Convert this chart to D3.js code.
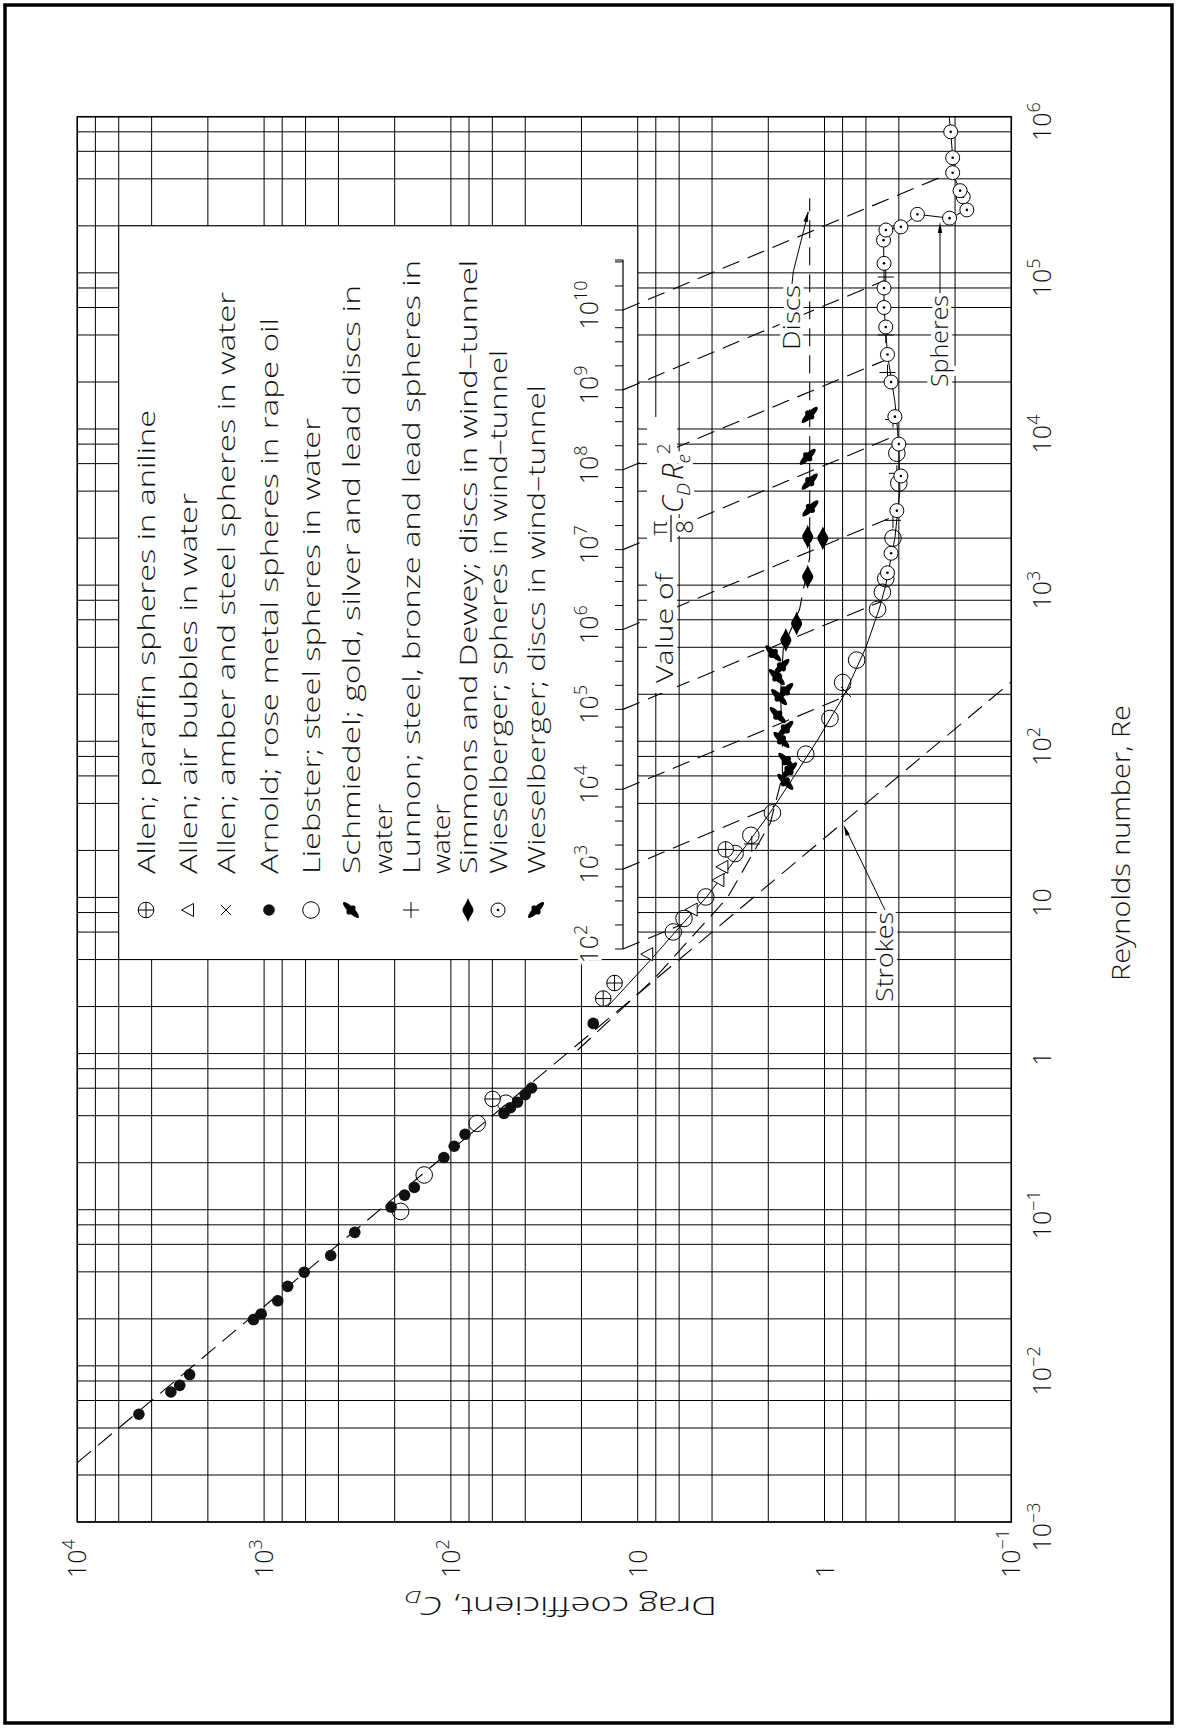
<!DOCTYPE html>
<html><head><meta charset="utf-8">
<script src="https://cdn.jsdelivr.net/npm/d3@7"></script>
<style>body{margin:0;background:#fff}</style></head>
<body><svg id="c" width="1177" height="1728"></svg>
<script>
// ---------------- DATA ([Re, Cd]) ----------------
const reTickExps = [-3,-2,-1,0,1,2,3,4,5,6];
const cdTickExps = [4,3,2,1,0,-1];
const gridMult = [1,2,4,6,8];
const vTickExps = [2,3,4,5,6,7,8,9,10];

const allenParaffin = [[0.512,59.8],[2.25,15.3],[2.83,13.3],[20.3,3.38]];
const allenBubbles = [[4.33,8.89],[8.36,5.14],[12.9,3.70],[15.7,3.52]];
const allenAmber = [[207,0.767]];
const arnold = [[0.0049,4680],[0.0068,3155],[0.0075,2830],[0.0088,2505],[0.0198,1140],[0.0215,1037],[0.0261,845],[0.0323,748],[0.0398,610],[0.0509,440],[0.0716,327],[0.104,209],[0.124,177],[0.139,157],[0.216,109],[0.255,96],[0.304,84],[0.414,52],[0.45,48],[0.488,44],[0.546,40],[0.602,37],[1.56,17.3]];
const liebster = [[0.0975,186],[0.167,139],[0.357,72.3],[0.481,50.8],[6.01,6.45],[7.33,5.65],[10.07,4.32],[19.1,3.01],[25,2.48],[34.8,1.9],[82.7,1.26],[140,0.935],[238,0.80],[331,0.673],[700,0.52],[900,0.49],[1100,0.47],[2000,0.43],[4500,0.4],[7000,0.41]];
const schmiedel = [[55,1.62],[75,1.6],[102,1.7],[147,1.78],[192,1.75],[258,1.8],[365,1.88]];
const lunnon = [[22,2.45],[2600,0.43],[5200,0.41],[1.15e4,0.43],[2.3e4,0.46],[4e4,0.47],[6e4,0.48],[9.4e4,0.47]];
const simmons = [[445,1.61],[568,1.41],[1130,1.23],[2000,1.02],[2040,1.23]];
const wieselSpheres = [[1.2e3,0.46],[1.6e3,0.44],[3e3,0.41],[5e3,0.39],[8e3,0.4],[1.2e4,0.42],[2e4,0.44],[3e4,0.46],[4.5e4,0.47],[6e4,0.48],[8e4,0.48],[1.15e5,0.48],[1.62e5,0.483],[1.88e5,0.469],[1.97e5,0.39],[2.37e5,0.318],[2.24e5,0.214],[2.53e5,0.173],[3.07e5,0.181],[3.36e5,0.188],[4.38e5,0.206],[5.46e5,0.206],[8.0e5,0.211]];
const wieselDiscs = [[65,1.55],[120,1.62],[210,1.62],[300,1.7],[3100,1.19],[4600,1.2],[6640,1.23],[1.23e4,1.2]];
const sphereCurve = [[2,14.5],[4,8.5],[6,6.3],[10,4.3],[20,2.75],[35,1.95],[60,1.45],[100,1.1],[200,0.78],[400,0.6],[700,0.51],[1000,0.47],[2000,0.42],[4000,0.395],[8000,0.4],[1.5e4,0.42],[3e4,0.46],[6e4,0.48],[1e5,0.48],[1.62e5,0.483],[1.88e5,0.469],[1.97e5,0.39],[2.37e5,0.318],[2.24e5,0.214],[2.53e5,0.173],[3.07e5,0.181],[3.36e5,0.188],[4.38e5,0.206],[5.46e5,0.206],[8.0e5,0.211],[1e6,0.215]];
const discCurve = [[1.05,21],[3,8.2],[10,3.3],[30,1.95],[60,1.68],[100,1.68],[200,1.72],[400,1.66],[700,1.36],[1500,1.2],[3e5,1.2]];
const stokesLine = [[2.4e-3,1e4],[240,0.1]];

// ---------------- SETUP ----------------
const W = 1177, H = 1728;
const svg = d3.select('#c');
svg.append('rect').attr('width',W).attr('height',H).attr('fill','#fff');
svg.append('rect').attr('x',5).attr('y',5).attr('width',1167).attr('height',1718)
  .attr('fill','none').attr('stroke','#000').attr('stroke-width',3.5);

const x = d3.scaleLog().domain([1e4,1e-1]).range([77.3,1011.3]);
const y = d3.scaleLog().domain([1e-3,1e6]).range([1522,116.7]);
const vScale = d3.scaleLog().domain([1e2,1e10]).range([949,310]);
const FONT = '"Open Sans", Roboto, "DejaVu Sans", sans-serif';
const FW = 300;

// grid
const cdGrid = [], reGrid = [];
for (let k=-1;k<=3;k++) gridMult.forEach(m=>cdGrid.push(m*Math.pow(10,k)));
cdGrid.push(1e4);
for (let k=-3;k<=5;k++) gridMult.forEach(m=>reGrid.push(m*Math.pow(10,k)));
reGrid.push(1e6);

const g = svg.append('g');
g.selectAll('.vg').data(cdGrid).join('line')
  .attr('x1',d=>x(d)).attr('x2',d=>x(d)).attr('y1',y(1e6)).attr('y2',y(1e-3))
  .attr('stroke','#000').attr('stroke-width',1);
g.selectAll('.hg').data(reGrid).join('line')
  .attr('y1',d=>y(d)).attr('y2',d=>y(d)).attr('x1',x(1e4)).attr('x2',x(1e-1))
  .attr('stroke','#000').attr('stroke-width',1);
g.append('rect').attr('x',x(1e4)).attr('y',y(1e6)).attr('width',x(1e-1)-x(1e4)).attr('height',y(1e-3)-y(1e6))
  .attr('fill','none').attr('stroke','#000').attr('stroke-width',1.5);

// legend box
const lg = svg.append('g');
lg.append('rect').attr('x',x(6000)).attr('y',y(2e5)).attr('width',x(10)-x(6000)).attr('height',y(4)-y(2e5))
  .attr('fill','#fff').attr('stroke','#000').attr('stroke-width',1);

function rtext(parent, px, py, anchor, size){
  return parent.append('text').attr('transform',`translate(${px},${py}) rotate(-90)`)
    .attr('text-anchor',anchor).attr('font-family',FONT).attr('font-weight',FW).attr('font-size',size).attr('fill','#111');
}
function pow10(parent, px, py, exp, size, anchor){
  const t = rtext(parent, px, py, anchor||'middle', size);
  if (exp===0){ t.text('1'); return t; }
  if (exp===1){ t.text('10'); return t; }
  t.append('tspan').text('10');
  t.append('tspan').attr('dy',-size*0.45).attr('font-size',size*0.72).text(exp<0?('\u2212'+(-exp)):exp);
  return t;
}

// ---------------- MARKERS ----------------
function drawMarker(s, type){
  if (type==='oplus'){ s.append('circle').attr('r',7.8).attr('fill','#fff').attr('stroke','#000').attr('stroke-width',1);
    s.append('path').attr('d','M-7.8,0H7.8M0,-7.8V7.8').attr('stroke','#000').attr('stroke-width',1); }
  if (type==='tri'){ s.append('path').attr('d','M-6.5,0L5.5,-6.5L5.5,6.5Z').attr('fill','#fff').attr('stroke','#000').attr('stroke-width',1); }
  if (type==='cross'){ s.append('path').attr('d','M-5,-5L5,5M-5,5L5,-5').attr('stroke','#000').attr('stroke-width',1); }
  if (type==='dot'){ s.append('circle').attr('r',5.8).attr('fill','#111'); }
  if (type==='circle'){ s.append('circle').attr('r',8.3).attr('fill','none').attr('stroke','#000').attr('stroke-width',1); }
  if (type==='plus'){ s.append('path').attr('d','M-8,0H8M0,-8V8').attr('stroke','#000').attr('stroke-width',1); }
  if (type==='odot'){ s.append('circle').attr('r',7).attr('fill','#fff').attr('stroke','#000').attr('stroke-width',1);
    s.append('circle').attr('r',1.3).attr('fill','#000'); }
  if (type==='schm'){ const q=s.append('g').attr('transform','rotate(45)');
    q.append('ellipse').attr('rx',11).attr('ry',3.2).attr('fill','#000');
    q.append('ellipse').attr('rx',3.5).attr('ry',5.5).attr('fill','#000'); }
  if (type==='simm'){ s.append('path').attr('d','M0,-12C2,-6 5.5,-3 5.5,0C5.5,3 2,6 0,12C-2,6 -5.5,3 -5.5,0C-5.5,-3 -2,-6 0,-12Z').attr('fill','#000'); }
  if (type==='wdisc'){ const q=s.append('g').attr('transform','rotate(-45)');
    q.append('ellipse').attr('rx',11).attr('ry',3.2).attr('fill','#000');
    q.append('ellipse').attr('rx',3.5).attr('ry',5.5).attr('fill','#000'); }
}

// ---------------- LEGEND ----------------
const legendItems = [
  {t:'oplus', lines:['Allen; paraffin spheres in aniline'], bx:[155], len:[464]},
  {t:'tri', lines:['Allen; air bubbles in water'], bx:[197], len:[381]},
  {t:'cross', lines:['Allen; amber and steel spheres in water'], bx:[235], len:[582]},
  {t:'dot', lines:['Arnold; rose metal spheres in rape oil'], bx:[278], len:[556]},
  {t:'circle', lines:['Liebster; steel spheres in water'], bx:[320], len:[456]},
  {t:'schm', lines:['Schmiedel; gold, silver and lead discs in','water'], bx:[360,392], len:[589,70]},
  {t:'plus', lines:['Lunnon; steel, bronze and lead spheres in','water'], bx:[420,450], len:[614,70]},
  {t:'simm', lines:['Simmons and Dewey; discs in wind\u2013tunnel'], bx:[477], len:[614]},
  {t:'odot', lines:['Wieselberger; spheres in wind\u2013tunnel'], bx:[507], len:[524]},
  {t:'wdisc', lines:['Wieselberger; discs in wind\u2013tunnel'], bx:[545], len:[489]}
];
legendItems.forEach(it=>{
  it.lines.forEach((ln,i)=>{
    rtext(lg, it.bx[i], 874, 'start', 24).attr('textLength',it.len[i]).attr('lengthAdjust','spacingAndGlyphs').text(ln);
  });
  drawMarker(lg.append('g').attr('transform',`translate(${it.bx[0]-9},910)`), it.t);
});

// ---------------- LINES ----------------
const line = d3.line().x(d=>x(d[1])).y(d=>y(d[0]));
const dl = svg.append('g').attr('fill','none').attr('stroke','#000').attr('stroke-width',1.1).attr('stroke-dasharray','18,9');

// sphere curve in screen space for intersections
const sc = sphereCurve.map(d=>[x(d[1]),y(d[0])]);
function firstHit(p0,p1){
  let best=null;
  for(let i=0;i<sc.length-1;i++){
    const a=sc[i], b=sc[i+1];
    const r=[p1[0]-p0[0],p1[1]-p0[1]], s=[b[0]-a[0],b[1]-a[1]];
    const den=r[0]*s[1]-r[1]*s[0]; if(Math.abs(den)<1e-9) continue;
    const t=((a[0]-p0[0])*s[1]-(a[1]-p0[1])*s[0])/den;
    const u=((a[0]-p0[0])*r[1]-(a[1]-p0[1])*r[0])/den;
    if(t>0.01&&t<=1&&u>=0&&u<=1){ if(best===null||t<best) best=t; }
  }
  return best;
}
const cd0 = x.invert(623);
vTickExps.forEach(e=>{
  const re0 = y.invert(vScale(Math.pow(10,e)));
  const K = cd0*re0*re0;
  const reEnd = Math.min(Math.sqrt(K/0.1),1e6);
  const p0=[623,vScale(Math.pow(10,e))], p1=[x(K/(reEnd*reEnd)),y(reEnd)];
  const t = firstHit(p0,p1);
  const pe = t===null?p1:[p0[0]+t*(p1[0]-p0[0]),p0[1]+t*(p1[1]-p0[1])];
  dl.append('path').attr('d',`M${p0[0]},${p0[1]}L${pe[0]},${pe[1]}`);
});
dl.append('path').attr('d',line(stokesLine));
dl.append('path').attr('d',line(discCurve));
svg.append('path').attr('d',line(sphereCurve)).attr('fill','none').attr('stroke','#000').attr('stroke-width',1);

// ---------------- V SCALE ----------------
const vs = svg.append('g');
vs.append('line').attr('x1',623).attr('x2',623).attr('y1',260).attr('y2',vScale(1e2)).attr('stroke','#000').attr('stroke-width',1.2);
const vMinor = [];
vTickExps.forEach(e=>{ vMinor.push(Math.pow(10,e)); if(e<10){[2,4,6].forEach(m=>vMinor.push(m*Math.pow(10,e)));} });
vMinor.push(2e10,4e10);
vs.selectAll('.vt').data(vMinor).join('line').attr('x1',615).attr('x2',623)
  .attr('y1',d=>vScale(d)).attr('y2',d=>vScale(d)).attr('stroke','#000').attr('stroke-width',1);
vs.append('line').attr('x1',615).attr('x2',623).attr('y1',260).attr('y2',260).attr('stroke','#000');
vTickExps.forEach(e=>{
  pow10(vs, 598, vScale(Math.pow(10,e))-5, e, 25, 'middle').attr('stroke','#fff').attr('stroke-width',7).attr('paint-order','stroke');
});

// ---------------- POINTS ----------------
const pg = svg.append('g');
function plot(data,type){
  data.forEach(d=>drawMarker(pg.append('g').attr('transform',`translate(${x(d[1])},${y(d[0])})`),type));
}
plot(arnold,'dot'); plot(liebster,'circle'); plot(allenParaffin,'oplus'); plot(allenBubbles,'tri');
plot(allenAmber,'cross'); plot(lunnon,'plus'); plot(schmiedel,'schm'); plot(simmons,'simm');
plot(wieselSpheres,'odot'); plot(wieselDiscs,'wdisc');

// ---------------- ANNOTATIONS ----------------
const an = svg.append('g');
function halo(t){ return t.attr('stroke','#fff').attr('stroke-width',8).attr('paint-order','stroke'); }
function arrowHead(px,py,ang){
  an.append('path').attr('d','M0,0L-11,-2.2L-11,2.2Z').attr('fill','#000')
    .attr('transform',`translate(${px},${py}) rotate(${ang})`);
}
// Value of pi/8 Cd Re^2
an.append('rect').attr('x',647).attr('y',417).attr('width',30).attr('height',276).attr('fill','#fff');
halo(rtext(an, 673, 683, 'start', 23).attr('textLength',110).attr('lengthAdjust','spacingAndGlyphs').text('Value of'));
halo(rtext(an, 667, 528.5, 'middle', 24).text('\u03C0'));
an.append('line').attr('x1',671).attr('x2',671).attr('y1',515).attr('y2',542).attr('stroke','#000').attr('stroke-width',1.2);
halo(rtext(an, 693, 527, 'middle', 24).text('8'));
const mt = halo(rtext(an, 683, 513, 'start', 29));
mt.append('tspan').attr('font-style','italic').text('C');
mt.append('tspan').attr('font-size',19).attr('dy',7).attr('font-style','italic').text('D');
mt.append('tspan').attr('dy',-7).attr('dx',3).attr('font-style','italic').text('R');
mt.append('tspan').attr('font-size',19).attr('dy',7).attr('font-style','italic').text('e');
mt.append('tspan').attr('font-size',19).attr('dy',-20).text('2');

// Discs
halo(rtext(an, 800, 350, 'start', 23).attr('textLength',65).attr('lengthAdjust','spacingAndGlyphs').text('Discs'));
an.append('path').attr('d','M792,284L793.3,271.7L808.3,212').attr('fill','none').attr('stroke','#000').attr('stroke-width',1);
arrowHead(808.3,211,-76);
// Spheres
halo(rtext(an, 948, 387, 'start', 23).attr('textLength',92).attr('lengthAdjust','spacingAndGlyphs').text('Spheres'));
an.append('path').attr('d','M940,293L940,230').attr('fill','none').attr('stroke','#000').attr('stroke-width',1);
arrowHead(940,222,-90);
// Strokes
halo(rtext(an, 893, 1002, 'start', 23).attr('textLength',90).attr('lengthAdjust','spacingAndGlyphs').text('Strokes'));
const tipRe = 30, tipCd = 24/30;
an.append('path').attr('d',`M885,910L${x(tipCd)+4},${y(tipRe)+8}`).attr('fill','none').attr('stroke','#000').attr('stroke-width',1);
arrowHead(x(tipCd)+1,y(tipRe)+2,-112);

// ---------------- AXIS LABELS ----------------
const al = svg.append('g');
reTickExps.forEach(e=>{ pow10(al, 1051, y(Math.pow(10,e))+5, e, 25, 'middle'); });
cdTickExps.forEach(e=>{ pow10(al, x(Math.pow(10,e))+9, 1578, e, 25, 'start'); });
rtext(al, 1130, 843, 'middle', 25).attr('textLength',276).attr('lengthAdjust','spacingAndGlyphs').text('Reynolds number, Re');
const dt = al.append('text').attr('transform','translate(561,1597) rotate(180)').attr('text-anchor','middle')
  .attr('font-family',FONT).attr('font-weight',FW).attr('font-size',25).attr('fill','#111')
  .attr('textLength',312).attr('lengthAdjust','spacingAndGlyphs');
dt.append('tspan').text('Drag coefficient, ');
dt.append('tspan').attr('font-style','italic').text('C');
dt.append('tspan').attr('font-size',17).attr('dy',6).attr('font-style','italic').text('D');
</script></body></html>
